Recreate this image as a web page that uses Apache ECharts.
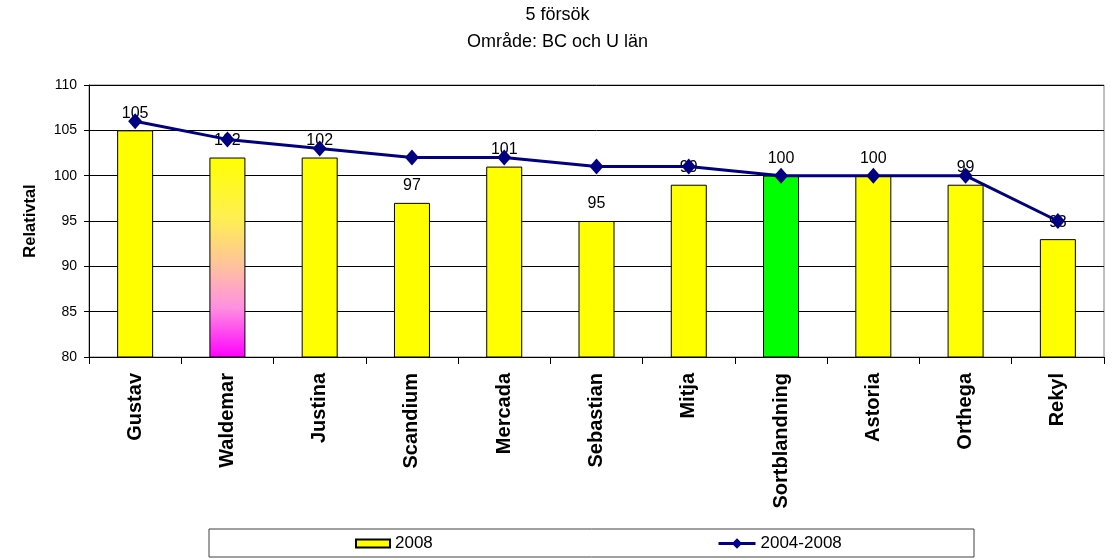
<!DOCTYPE html>
<html>
<head>
<meta charset="utf-8">
<script src="https://cdn.jsdelivr.net/npm/echarts@6/dist/echarts.min.js"></script>
<style>
html,body{margin:0;padding:0;background:#fff;}
#chart{width:1115px;height:560px;}
</style>
</head>
<body>
<div id="chart"></div>
<script>
var categories = ['Gustav','Waldemar','Justina','Scandium','Mercada','Sebastian','Mitja','Sortblandning','Astoria','Orthega','Rekyl'];
var values2008 = [105,102,102,97,101,95,99,100,100,99,93];
var values2004_2008 = [106,104,103,102,102,101,101,100,100,100,95];
var yTicks = {min:80, max:110, interval:5};
var titleLines = ['5 försök','Område: BC och U län'];
var seriesNames = ['2008','2004-2008'];

var FONT = '"Liberation Sans", Arial, sans-serif';
var yellow = '#ffff00';

var barData = values2008.map(function(v, i){
  var item = {value: v};
  if (categories[i] === 'Waldemar') {
    item.itemStyle = {color: new echarts.graphic.LinearGradient(0,0,0,1,[
      {offset:0,color:'#ffff00'},{offset:0.3,color:'#fff050'},{offset:0.55,color:'#ffc0a0'},{offset:0.75,color:'#ff90e0'},{offset:1,color:'#ff00ff'}])};
  } else if (categories[i] === 'Sortblandning') {
    item.itemStyle = {color:'#00ff00'};
  }
  return item;
});

var chart = echarts.init(document.getElementById('chart'), null, {renderer:'canvas'});
chart.setOption({
  animation:false,
  backgroundColor:'#ffffff',
  textStyle:{fontFamily:FONT},
  title:{
    text: titleLines.join('\n'),
    left:'center', top:2, padding:0,
    textStyle:{fontFamily:FONT, fontSize:18, fontWeight:'normal', color:'#000', lineHeight:27}
  },
  grid:{left:89, right:11, top:85, bottom:203, show:true, borderColor:'#808080', borderWidth:1},
  graphic:[{
    type:'rect', shape:{x:209, y:529, width:765, height:28},
    style:{fill:'#fff', stroke:'#404040', lineWidth:1}, z:-1
  }],
  legend:[{
    data:[{name:seriesNames[0], icon:'rect'}], left:355, top:535, itemWidth:34, itemHeight:8, itemGap:0,
    textStyle:{fontFamily:FONT, fontSize:17, color:'#000'}, padding:0
  },{
    data:[seriesNames[1]], left:717, top:535, itemWidth:37, itemHeight:13, itemGap:0,
    lineStyle:{width:3},
    textStyle:{fontFamily:FONT, fontSize:17, color:'#000'}, padding:0
  }],
  xAxis:{
    type:'category', data:categories,
    axisLine:{lineStyle:{color:'#000', width:1}},
    axisTick:{show:true, alignWithLabel:false, length:7, lineStyle:{color:'#000'}},
    axisLabel:{rotate:90, fontFamily:FONT, fontSize:20, fontWeight:'bold', color:'#000', margin:16}
  },
  yAxis:{
    type:'value', min:yTicks.min, max:yTicks.max, interval:yTicks.interval,
    name:'Relativtal', nameLocation:'middle', nameGap:50,
    nameTextStyle:{fontFamily:FONT, fontSize:16.5, fontWeight:'bold', color:'#000'},
    axisLine:{show:true, lineStyle:{color:'#000', width:1}},
    axisTick:{show:true, length:5, lineStyle:{color:'#000'}},
    axisLabel:{fontFamily:FONT, fontSize:14, color:'#000', margin:12},
    splitLine:{show:true, lineStyle:{color:'#000', width:1}}
  },
  series:[{
    name:seriesNames[0], type:'bar', data:barData, barWidth:36,
    itemStyle:{color:yellow, borderColor:'#000', borderWidth:1},
    label:{show:true, position:'top', distance:9, fontFamily:FONT, fontSize:16, color:'#000'},
    z:2
  },{
    name:seriesNames[1], type:'line', data:values2004_2008,
    lineStyle:{color:'#000080', width:3},
    itemStyle:{color:'#000080'},
    symbol:'diamond', symbolSize:[14,16], showSymbol:true,
    z:3
  }]
});
</script>
</body>
</html>
